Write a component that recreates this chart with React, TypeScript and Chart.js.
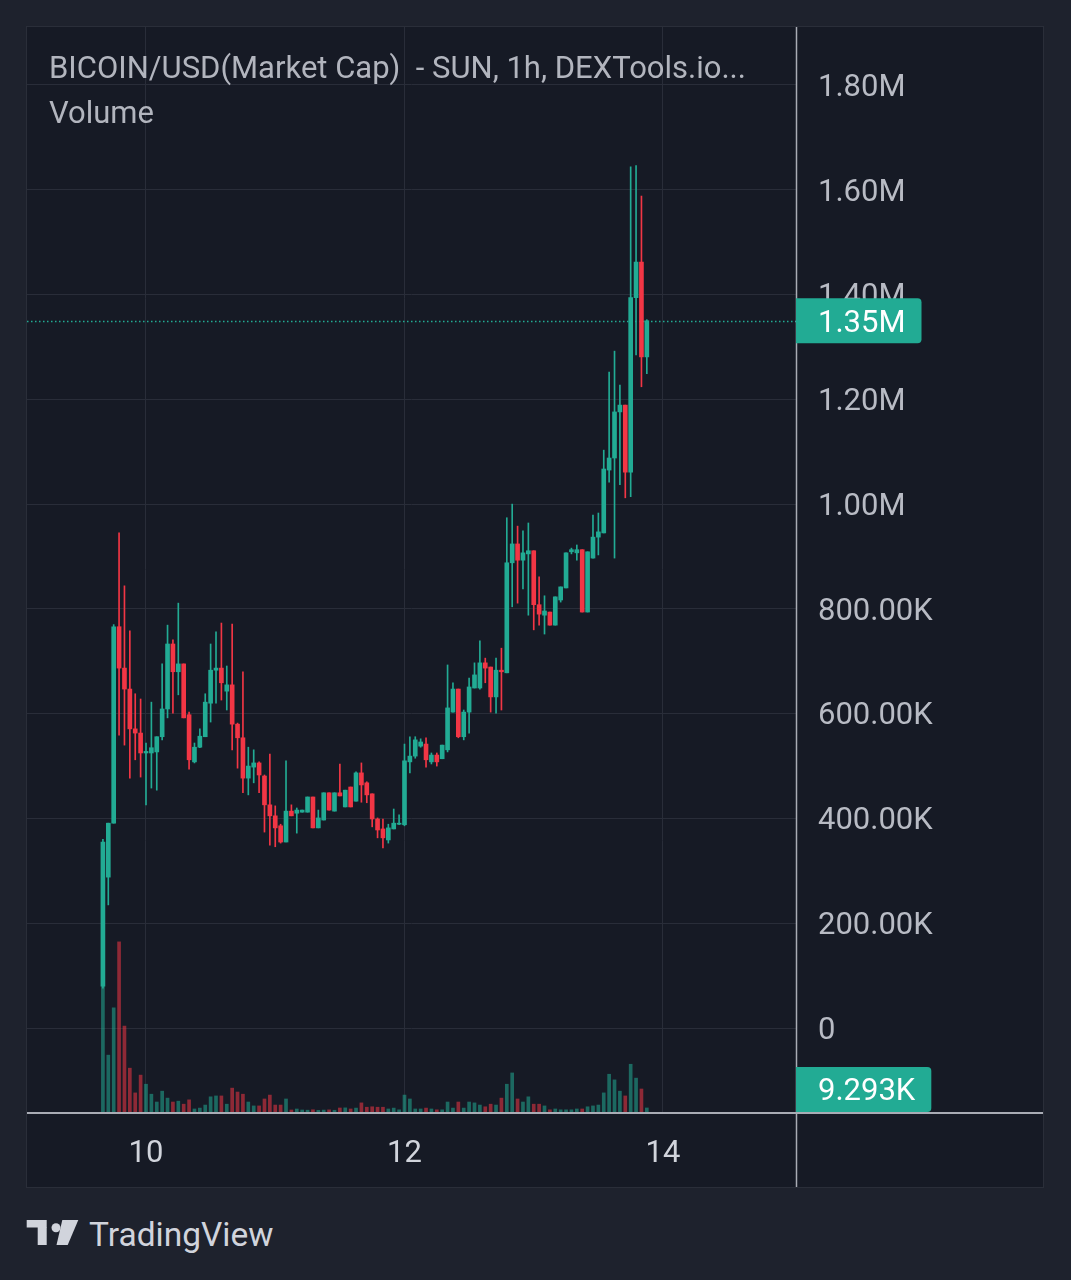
import React, { useEffect, useRef } from "react";
import { Chart, registerables } from "chart.js";

Chart.register(...registerables);

// ---- data (values in thousands of USD) ----
const FIRST_CANDLE_HOUR = 16; // first candle: day 9, 16:00 (hours counted from day 9 00:00)
const FIRST_DAY = 9;
const dayTicks = [10, 12, 14];
const dayTickLabels = ["10", "12", "14"];
const priceTicks = [0, 200, 400, 600, 800, 1000, 1200, 1400, 1600, 1800];

const open = [
  80, 288, 391, 766, 687, 647, 571, 563, 525, 525,
  527, 556, 609, 733, 680, 695, 598, 508, 536, 556,
  620, 683, 687, 643, 655, 580, 554, 477, 498, 506,
  481, 426, 405, 386, 355, 414, 410, 412, 412, 441,
  382, 397, 449, 414, 449, 422, 460, 433, 487, 468,
  447, 399, 380, 359, 380, 389, 388, 508, 519, 538,
  542, 508, 521, 514, 531, 603, 647, 556, 603, 649,
  649, 697, 689, 632, 683, 678, 888, 924, 893, 905,
  911, 808, 788, 794, 769, 817, 840, 909, 907, 913,
  794, 897, 937, 945, 1065, 1088, 1176, 1189, 1061, 1394,
  1462, 1281,
];
const high = [
  360, 391, 770, 945, 844, 758, 638, 628, 544, 622,
  556, 695, 769, 741, 811, 695, 603, 544, 571, 638,
  733, 756, 773, 691, 771, 582, 680, 536, 531, 508,
  483, 523, 424, 389, 510, 426, 420, 416, 441, 441,
  416, 449, 449, 449, 504, 454, 460, 489, 506, 470,
  447, 401, 399, 389, 418, 407, 542, 556, 556, 552,
  554, 525, 525, 540, 693, 659, 647, 607, 668, 697,
  739, 706, 689, 706, 725, 974, 1000, 958, 949, 964,
  911, 861, 825, 794, 823, 842, 907, 916, 922, 913,
  909, 979, 983, 1103, 1252, 1292, 1227, 1189, 1644, 1646,
  1588, 1352,
];
const low = [
  76, 235, 391, 559, 540, 477, 512, 479, 426, 458,
  454, 550, 592, 601, 636, 592, 494, 506, 535, 556,
  584, 620, 626, 607, 531, 496, 449, 445, 468, 449,
  374, 349, 346, 353, 355, 405, 372, 412, 412, 382,
  382, 397, 416, 414, 443, 422, 422, 433, 431, 430,
  384, 363, 344, 353, 380, 388, 386, 487, 515, 536,
  498, 504, 500, 514, 527, 603, 554, 550, 563, 649,
  647, 659, 603, 601, 607, 678, 804, 811, 838, 788,
  760, 769, 752, 769, 769, 813, 840, 905, 893, 794,
  794, 897, 903, 945, 1042, 897, 1037, 1012, 1014, 1285,
  1224, 1249,
];
const close = [
  355, 391, 766, 687, 647, 571, 563, 525, 528, 535,
  556, 609, 733, 680, 695, 592, 512, 536, 557, 622,
  683, 687, 659, 655, 580, 554, 477, 500, 506, 483,
  426, 405, 382, 355, 414, 405, 416, 416, 441, 382,
  401, 449, 416, 449, 443, 454, 422, 487, 464, 445,
  399, 378, 363, 382, 391, 391, 510, 519, 550, 546,
  512, 521, 508, 540, 611, 647, 556, 603, 651, 674,
  697, 687, 632, 683, 680, 888, 924, 893, 907, 911,
  808, 790, 796, 769, 823, 842, 907, 913, 913, 794,
  909, 937, 947, 1067, 1088, 1176, 1189, 1061, 1394, 1462,
  1281, 1350,
];
const volume = [
  299, 131, 240, 392, 198, 101, 44, 85, 64, 41,
  23, 48, 32, 23, 25, 18, 28, 7, 9, 16,
  35, 37, 37, 18, 55, 46, 41, 23, 14, 14,
  30, 39, 16, 16, 30, 4.6, 6.9, 4.6, 4.2, 5.1,
  3.8, 4.4, 4.9, 4.0, 9.2, 9.5, 7, 9, 21, 11,
  12, 11, 11, 7, 9, 5, 39, 30, 7, 7,
  9, 7, 5, 5, 23, 9, 23, 9, 23, 21,
  16, 12, 18, 16, 32, 64, 90, 30, 23, 35,
  18, 18, 14, 5, 7, 5, 5, 5, 7, 7,
  12, 14, 16, 44, 87, 74, 48, 37, 110, 78,
  53, 9.293,
];

// ---- style ----
const UP = "#22ab94";
const DOWN = "#f23645";
const UP_VOL = "rgba(34,171,148,0.55)";
const DOWN_VOL = "rgba(242,54,69,0.55)";
const GRID = "#292d39";
const AXIS_LINE = "#a9acb5";
const FONT = "Roboto";
const AXIS_FONT_SIZE = 31;

function fmtPrice(v: number): string {
  if (v === 0) return "0";
  if (v >= 1000) return (v / 1000).toFixed(2) + "M";
  return v.toFixed(2) + "K";
}

const overlayPlugin = {
  id: "tvOverlay",
  beforeDatasetsDraw(chart: any) {
    const { ctx, chartArea, scales } = chart;
    const y = Math.round(scales.y.getPixelForValue(close[close.length - 1])) + 0.5;
    ctx.save();
    ctx.strokeStyle = UP;
    ctx.lineWidth = 1.5;
    ctx.setLineDash([1.5, 2.5]);
    ctx.beginPath();
    ctx.moveTo(chartArea.left, y);
    ctx.lineTo(chartArea.right, y);
    ctx.stroke();
    ctx.restore();
  },
  afterDraw(chart: any) {
    const { ctx, chartArea, scales, width, height } = chart;
    ctx.save();
    // axis separators
    ctx.strokeStyle = AXIS_LINE;
    ctx.lineWidth = 1.5;
    ctx.beginPath();
    ctx.moveTo(chartArea.right + 0.5, 0);
    ctx.lineTo(chartArea.right + 0.5, height);
    ctx.stroke();
    ctx.lineWidth = 2;
    ctx.beginPath();
    ctx.moveTo(0, chartArea.bottom + 1);
    ctx.lineTo(width, chartArea.bottom + 1);
    ctx.stroke();

    ctx.font = `${AXIS_FONT_SIZE}px ${FONT}`;
    ctx.textBaseline = "middle";
    ctx.textAlign = "left";
    const badge = (text: string, cy: number, color: string) => {
      const w = ctx.measureText(text).width + 22 + 16;
      const h = 45;
      ctx.fillStyle = color;
      ctx.beginPath();
      (ctx as any).roundRect(chartArea.right, cy - h / 2, w, h, [0, 4, 4, 0]);
      ctx.fill();
      ctx.fillStyle = "#ffffff";
      ctx.fillText(text, chartArea.right + 22, cy + 3);
    };
    // last price badge
    const lastClose = close[close.length - 1];
    badge(fmtPrice(lastClose), scales.y.getPixelForValue(lastClose), UP);
    // last volume badge
    const lastVol = volume[volume.length - 1];
    const vy = Math.min(scales.yVol.getPixelForValue(lastVol), chartArea.bottom - 22.5);
    badge(lastVol.toFixed(3) + "K", vy, UP);
    ctx.restore();
  },
};

export default function App() {
  const canvasRef = useRef<HTMLCanvasElement | null>(null);

  useEffect(() => {
    document.body.style.margin = "0";
    document.body.style.overflow = "hidden";
    const canvas = canvasRef.current;
    if (!canvas) return;

    const hours = open.map((_, i) => FIRST_CANDLE_HOUR + i);
    const isUp = open.map((o, i) => close[i] >= o);
    const dayHour = (d: number) => (d - FIRST_DAY) * 24;

    const chart = new Chart(canvas, {
      type: "bar",
      data: {
        datasets: [
          {
            label: "Body",
            data: hours.map((h, i) => ({ x: h, y: [open[i], close[i]] })) as any,
            backgroundColor: isUp.map((u) => (u ? UP : DOWN)),
            barThickness: 4,
            minBarLength: 1,
            grouped: false,
            order: 1,
            yAxisID: "y",
          } as any,
          {
            label: "Wick",
            data: hours.map((h, i) => ({ x: h, y: [low[i], high[i]] })) as any,
            backgroundColor: isUp.map((u) => (u ? UP : DOWN)),
            barThickness: 1,
            minBarLength: 1,
            grouped: false,
            order: 2,
            yAxisID: "y",
          } as any,
          {
            label: "Volume",
            data: hours.map((h, i) => ({ x: h, y: volume[i] })) as any,
            backgroundColor: isUp.map((u) => (u ? UP_VOL : DOWN_VOL)),
            barThickness: 3,
            grouped: false,
            order: 3,
            yAxisID: "yVol",
          } as any,
        ],
      },
      options: {
        animation: false,
        responsive: false,
        events: [],
        layout: { padding: 0, autoPadding: false } as any,
        plugins: { legend: { display: false }, tooltip: { enabled: false } },
        scales: {
          x: {
            type: "linear",
            position: "bottom",
            min: 1.903,
            max: 144.7,
            offset: false,
            grid: { color: GRID, lineWidth: 1, drawTicks: false, offset: false },
            border: { display: false },
            ticks: {
              color: "#d1d4dc",
              font: { family: FONT, size: AXIS_FONT_SIZE },
              padding: 24,
              maxRotation: 0,
              autoSkip: false,
              callback: (_v: any, idx: number) => dayTickLabels[idx],
            },
            afterBuildTicks: (scale: any) => {
              scale.ticks = dayTicks.map((d) => ({ value: dayHour(d) }));
            },
            afterFit: (scale: any) => {
              scale.height = 75;
              scale.paddingLeft = 0;
              scale.paddingRight = 0;
            },
          },
          y: {
            type: "linear",
            position: "right",
            min: -160.3,
            max: 1910.7,
            grid: { color: GRID, lineWidth: 1, drawTicks: false },
            border: { display: false },
            ticks: {
              color: "#b8bbc4",
              font: { family: FONT, size: AXIS_FONT_SIZE },
              padding: 22,
              labelOffset: 3,
              autoSkip: false,
              callback: (v: any) => fmtPrice(Number(v)),
            },
            afterBuildTicks: (scale: any) => {
              scale.ticks = priceTicks.map((v) => ({ value: v }));
            },
            afterFit: (scale: any) => {
              scale.width = 247;
              scale.paddingTop = 0;
              scale.paddingBottom = 0;
            },
          },
          yVol: {
            type: "linear",
            display: false,
            min: 0,
            max: 2500,
            grid: { display: false },
          },
        },
      } as any,
      plugins: [overlayPlugin],
    });

    return () => chart.destroy();
  }, []);

  return (
    <div
      style={{
        position: "absolute",
        left: 0,
        top: 0,
        width: 1071,
        height: 1280,
        background: "#1e222d",
        overflow: "hidden",
        fontFamily: FONT,
      }}
    >
      <div
        style={{
          position: "absolute",
          left: 27,
          top: 27,
          width: 1016,
          height: 1160,
          background: "#161a25",
          outline: "1px solid #2a2e39",
        }}
      >
        <canvas ref={canvasRef} width={1016} height={1160} style={{ width: 1016, height: 1160, display: "block" }} />
      </div>
      <div
        style={{
          position: "absolute",
          left: 49,
          top: 50,
          fontSize: 31,
          lineHeight: "36px",
          color: "#b2b5be",
          whiteSpace: "pre",
        }}
      >
        {"BICOIN/USD(Market Cap)  - SUN, 1h, DEXTools.io..."}
      </div>
      <div
        style={{
          position: "absolute",
          left: 49,
          top: 95,
          fontSize: 31,
          lineHeight: "36px",
          color: "#b2b5be",
        }}
      >
        Volume
      </div>
      <svg
        style={{ position: "absolute", left: 26, top: 1219 }}
        width={56}
        height={28}
        viewBox="0 0 56 28"
      >
        <rect x={0.7} y={1} width={20} height={7.5} fill="#d1d4dc" />
        <rect x={11.7} y={8} width={9} height={18} fill="#d1d4dc" />
        <circle cx={30} cy={8.7} r={4.5} fill="#d1d4dc" />
        <polygon points="36.3,1 52.3,1 41.7,26 30.5,26" fill="#d1d4dc" />
      </svg>
      <div
        style={{
          position: "absolute",
          left: 89,
          top: 1217,
          fontSize: 33.5,
          lineHeight: "36px",
          color: "#d1d4dc",
        }}
      >
        TradingView
      </div>
    </div>
  );
}
